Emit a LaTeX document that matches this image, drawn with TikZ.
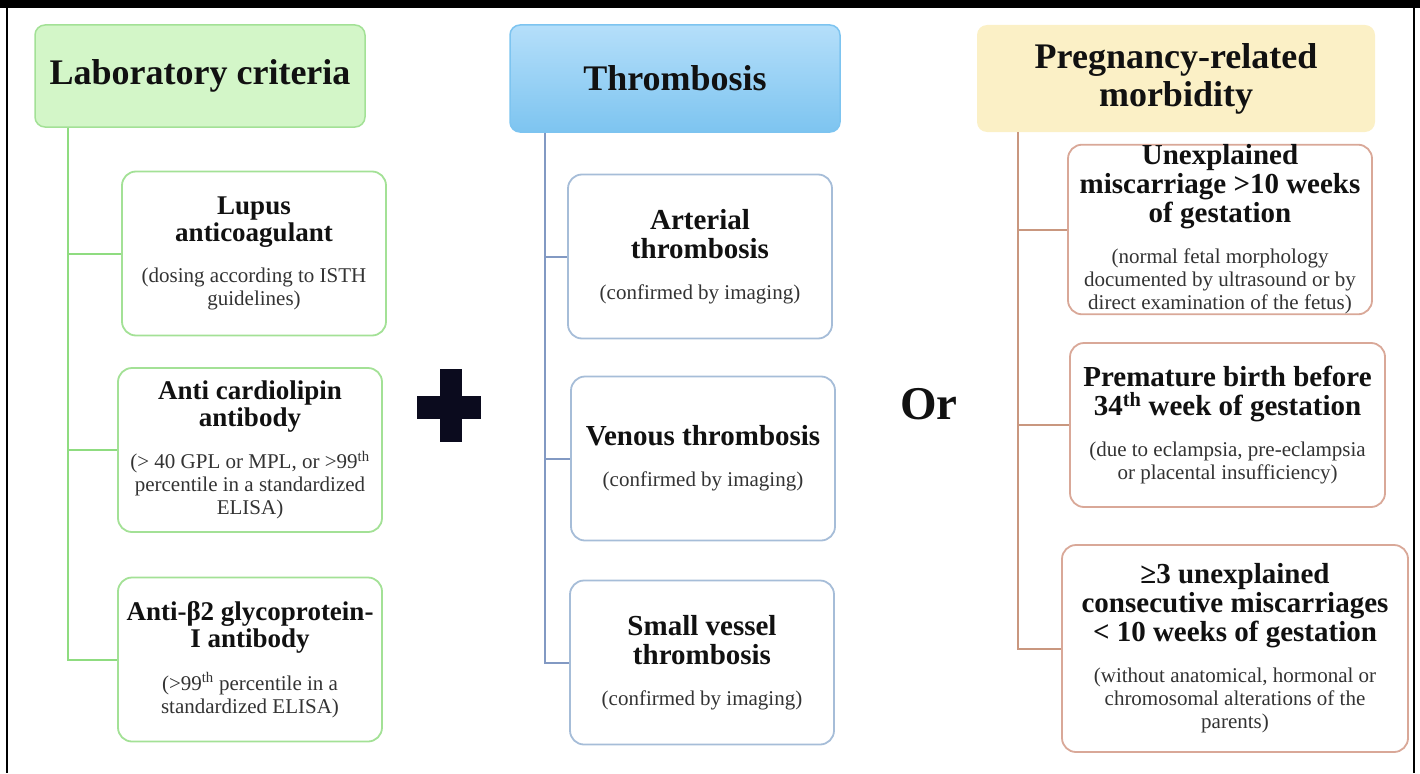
\documentclass[tikz,border=0pt]{standalone}
\usepackage{fontspec}
\setmainfont{Liberation Serif}
\usepackage{xcolor}

\definecolor{labgreen}{HTML}{D3F6C8}
\definecolor{labedge}{HTML}{A3E196}
\definecolor{labline}{HTML}{8FDC80}
\definecolor{thrtop}{HTML}{B5DFFA}
\definecolor{thrbot}{HTML}{7DC4F0}
\definecolor{thredge}{HTML}{A6BDD8}
\definecolor{thrline}{HTML}{8299C3}
\definecolor{pregfill}{HTML}{FBF0C6}
\definecolor{pregedge}{HTML}{D9A898}
\definecolor{pregline}{HTML}{C9977F}
\definecolor{titleink}{HTML}{111111}
\definecolor{subgray}{HTML}{333333}
\definecolor{plusnavy}{HTML}{0B0B1E}

% title and note of a criterion box
\newcommand{\crittitle}[2][27]{{\fontsize{#1}{#1}\selectfont\bfseries\spaceskip=0pt\xspaceskip=0pt #2\par}\vspace{18pt}}
\newcommand{\critnote}[1]{{\fontsize{21}{23}\selectfont\spaceskip=0pt\xspaceskip=0pt\color{subgray}#1\par}}

\begin{document}
\begin{tikzpicture}[x=1pt, y=-1pt,
    head/.style={rounded corners=10pt, minimum height=105pt, inner sep=0pt,
      align=center, text=titleink, font=\fontsize{36}{38}\selectfont\bfseries},
    crit/.style={draw, fill=white, rounded corners=14pt, line width=1.8pt,
      minimum height=164pt, inner sep=0pt, align=flush center, text=titleink},
    labbox/.style={crit, draw=labedge, minimum width=264pt, text width=256pt},
    thrbox/.style={crit, draw=thredge, minimum width=264pt, text width=256pt},
    pregbox/.style={crit, draw=pregedge},
    branch/.style={line width=2pt}]
	\useasboundingbox (0,0) rectangle (1420,773);

	% Frame of the slide
	\fill (0,0) rectangle (1420,8);
	\draw[line width=2pt] (7,8) -- (7,773);
	\draw[line width=2pt] (1414,8) -- (1414,773);

	% Laboratory criteria
	\node[head, fill=labgreen, draw=labedge, line width=1.5pt, minimum width=330pt, minimum height=102pt] (labhead) at (200,76) {Laboratory criteria};
	\node[labbox] (lab1) at (254,253.5) {\crittitle{Lupus\\anticoagulant}\critnote{(dosing according to ISTH\\guidelines)}};
	\node[labbox] (lab2) at (250,450) {\crittitle{Anti cardiolipin\\antibody}\critnote{(> 40 GPL or MPL, or >99\textsuperscript{th}\\percentile in a standardized\\ELISA)}};
	\node[labbox] (lab3) at (250,659.5) {\crittitle{Anti-β2 glycoprotein-\\I antibody}\critnote{(>99\textsuperscript{th} percentile in a\\standardized ELISA)}};

	\coordinate (labtrunk) at (68,0);
	\draw[labline, branch] (labhead.south -| labtrunk) |- (lab3.west);
	\draw[labline, branch] (labtrunk |- lab1.west) -- (lab1.west);
	\draw[labline, branch] (labtrunk |- lab2.west) -- (lab2.west);

	% Plus sign
	\fill[plusnavy] (440,369) rectangle (462,442);
	\fill[plusnavy] (417,396) rectangle (481,419);

	% Thrombosis
	\node[head, top color=thrtop, bottom color=thrbot, draw=thrbot, line width=1.5pt, minimum width=330pt, minimum height=107pt] (thrhead) at (675,78.5) {Thrombosis};
	\node[thrbox] (thr1) at (700,256.5) {\crittitle[29]{Arterial\\thrombosis}\critnote{(confirmed by imaging)}};
	\node[thrbox] (thr2) at (703,458.5) {\crittitle[29]{Venous thrombosis}\critnote{(confirmed by imaging)}};
	\node[thrbox] (thr3) at (702,662.5) {\crittitle[29]{Small vessel\\thrombosis}\critnote{(confirmed by imaging)}};

	\coordinate (thrtrunk) at (545,0);
	\draw[thrline, branch] (thrhead.south -| thrtrunk) |- (thr3.west);
	\draw[thrline, branch] (thrtrunk |- thr1.west) -- (thr1.west);
	\draw[thrline, branch] (thrtrunk |- thr2.west) -- (thr2.west);

	% Or
	\node[font=\fontsize{47}{47}\selectfont\bfseries, text=titleink] (orword) at (929,404) {Or};

	% Pregnancy-related morbidity
	\node[head, fill=pregfill, minimum width=398pt, minimum height=107pt] (preghead) at (1176,78.5) {Pregnancy-related\\morbidity};
	\node[pregbox, minimum width=304pt, minimum height=165pt, text width=296pt] (preg1) at (1220,229.5) {\crittitle[29]{Unexplained\\miscarriage >10 weeks\\of gestation}\critnote{(normal fetal morphology\\documented by ultrasound or by\\direct examination of the fetus)}};
	\node[pregbox, minimum width=315pt, text width=307pt] (preg2) at (1227.5,425) {\crittitle[29]{Premature birth before\\34\textsuperscript{th} week of gestation}\critnote{(due to eclampsia, pre-eclampsia\\or placental insufficiency)}};
	\node[pregbox, minimum width=346pt, minimum height=207pt, text width=334pt] (preg3) at (1235,648.5) {\crittitle[29]{≥3 unexplained\\consecutive miscarriages\\< 10 weeks of gestation}\critnote{(without anatomical, hormonal or\\chromosomal alterations of the\\parents)}};

	\coordinate (pregtrunk) at (1018,0);
	\draw[pregline, branch] (preghead.south -| pregtrunk) |- (preg3.west);
	\draw[pregline, branch] (pregtrunk |- preg1.west) -- (preg1.west);
	\draw[pregline, branch] (pregtrunk |- preg2.west) -- (preg2.west);
\end{tikzpicture}
\end{document}
